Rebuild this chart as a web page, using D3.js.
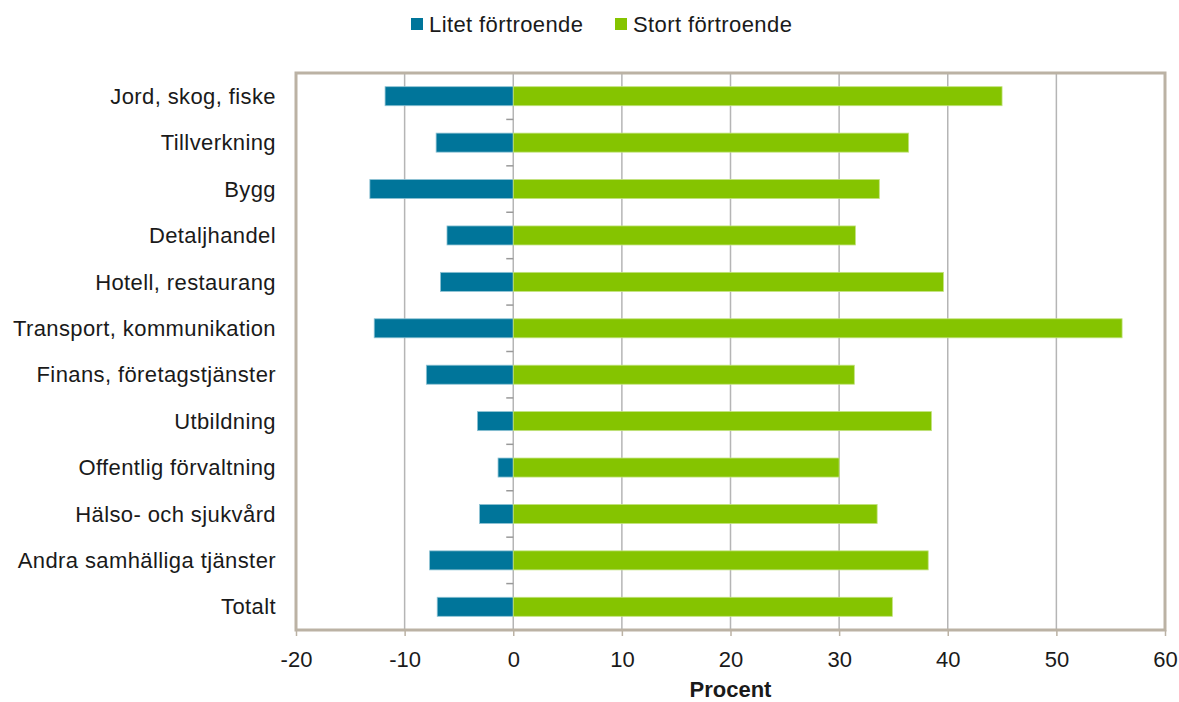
<!doctype html>
<html lang="sv">
<head>
<meta charset="utf-8">
<script src="https://d3js.org/d3.v7.min.js"></script>
<style>
  body { margin: 0; background: #fff; }
  text { font-family: "Liberation Sans", Arial, sans-serif; fill: #1a1a1a; }
</style>
</head>
<body>
<svg id="chart" width="1179" height="702"></svg>
<script>
// data
var categories = ["Jord, skog, fiske", "Tillverkning", "Bygg", "Detaljhandel", "Hotell, restaurang",
  "Transport, kommunikation", "Finans, företagstjänster", "Utbildning", "Offentlig förvaltning",
  "Hälso- och sjukvård", "Andra samhälliga tjänster", "Totalt"];
var litet = [-11.8, -7.1, -13.2, -6.1, -6.7, -12.8, -8.0, -3.3, -1.4, -3.1, -7.7, -7.0];
var stort = [45.0, 36.4, 33.7, 31.5, 39.6, 56.05, 31.4, 38.5, 30.0, 33.5, 38.2, 34.9];
var seriesNames = ["Litet förtroende", "Stort förtroende"];
var xTicks = [-20, -10, 0, 10, 20, 30, 40, 50, 60];

var blue = "#00759a", green = "#85c400";
var frame = "#bbb2a4", grid = "#b5b5b5";

var svg = d3.select("#chart");
var plotLeft = 296, plotRight = 1165, plotTop = 73, plotBottom = 630;

var x = d3.scaleLinear().domain([-20, 60]).range([plotLeft, plotRight]);
var y = d3.scaleBand().domain(categories).range([plotTop, plotBottom]).paddingInner(0.59).paddingOuter(0.295);
var yb = d3.scaleBand().domain(categories).range([plotTop, plotBottom]);

// gridlines
svg.append("g").selectAll("line")
  .data(xTicks.filter(function(d) { return d > -20 && d < 60; }))
  .enter().append("line")
  .attr("x1", function(d) { return x(d); }).attr("x2", function(d) { return x(d); })
  .attr("y1", plotTop).attr("y2", plotBottom)
  .style("stroke", grid).style("stroke-width", 1.5);

// category boundary ticks on the zero line
svg.append("g").selectAll("line")
  .data(categories)
  .enter().append("line")
  .attr("x1", x(0) - 7).attr("x2", x(0))
  .attr("y1", function(d) { return yb(d); }).attr("y2", function(d) { return yb(d); })
  .style("stroke", "#999").style("stroke-width", 1.5);

// bars
svg.append("g").selectAll("rect")
  .data(categories)
  .enter().append("rect")
  .attr("x", function(d, i) { return x(litet[i]); })
  .attr("y", function(d) { return y(d); })
  .attr("width", function(d, i) { return x(0) - x(litet[i]); })
  .attr("height", y.bandwidth())
  .style("fill", blue).style("stroke", "#8fc3d4").style("stroke-width", 0.8);

svg.append("g").selectAll("rect")
  .data(categories)
  .enter().append("rect")
  .attr("x", x(0))
  .attr("y", function(d) { return y(d); })
  .attr("width", function(d, i) { return x(stort[i]) - x(0); })
  .attr("height", y.bandwidth())
  .style("fill", green).style("stroke", "#c2e27f").style("stroke-width", 0.8);

// frame
svg.append("rect")
  .attr("x", plotLeft).attr("y", plotTop)
  .attr("width", plotRight - plotLeft).attr("height", plotBottom - plotTop)
  .style("fill", "none").style("stroke", frame).style("stroke-width", 3);

// x axis
var xAxis = svg.append("g")
  .attr("transform", "translate(0," + plotBottom + ")")
  .call(d3.axisBottom(x).tickValues(xTicks).tickFormat(function(d) { return String(d); })
    .tickSize(6).tickSizeOuter(0).tickPadding(15));
xAxis.select(".domain").remove();
xAxis.selectAll("line").style("stroke", frame).style("stroke-width", 1.5);
xAxis.selectAll("text").style("font-size", "22px").style("font-family", "Liberation Sans, Arial, sans-serif").style("fill", "#1a1a1a");

svg.append("text")
  .attr("x", x(20)).attr("y", 697)
  .style("text-anchor", "middle")
  .style("font-size", "22px").style("font-weight", "bold")
  .text("Procent");

// category labels
svg.append("g").selectAll("text")
  .data(categories)
  .enter().append("text")
  .attr("x", 276)
  .attr("y", function(d) { return yb(d) + yb.bandwidth() / 2; })
  .attr("dy", "0.35em")
  .style("text-anchor", "end")
  .style("font-size", "22px").style("letter-spacing", "0.4px")
  .text(function(d) { return d; });

// legend
var legend = svg.append("g");
var legendX = [411, 615];
var legendColors = [blue, green];
seriesNames.forEach(function(name, i) {
  legend.append("rect").attr("x", legendX[i]).attr("y", 18).attr("width", 12).attr("height", 12)
    .style("fill", legendColors[i]);
  legend.append("text").attr("x", legendX[i] + 18).attr("y", 24).attr("dy", "0.35em")
    .style("font-size", "22px").style("letter-spacing", "0.4px").text(name);
});
</script>
</body>
</html>
